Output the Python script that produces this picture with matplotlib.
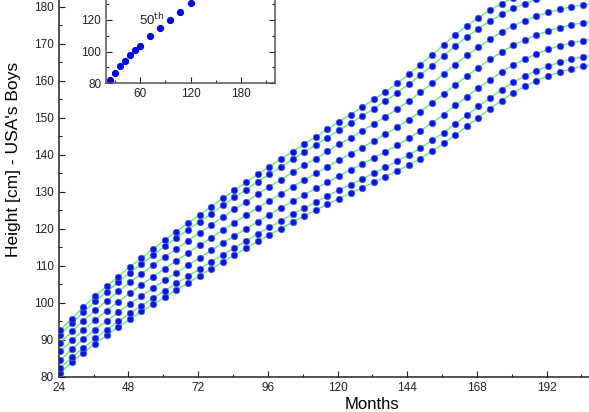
import matplotlib
matplotlib.use("Agg")
import matplotlib.pyplot as plt
from matplotlib.ticker import MultipleLocator, FixedLocator

plt.rcParams['font.family'] = ['Liberation Sans', 'DejaVu Sans']

# CDC style stature-for-age, boys (cm)
months = [24.5, 28.5, 32.5, 36.5, 40.5, 44.5, 48.5, 52.5, 56.5, 60.5, 64.5, 68.5,
          72.5, 76.5, 80.5, 84.5, 88.5, 92.5, 96.5, 100.5, 104.5, 108.5, 112.5, 116.5,
          120.5, 124.5, 128.5, 132.5, 136.5, 140.5, 144.5, 148.5, 152.5, 156.5, 160.5,
          164.5, 168.5, 172.5, 176.5, 180.5, 184.5, 188.5, 192.5, 196.5, 200.5, 204.5, 208.5]

p5 = [81.1, 84.0, 86.5, 89.0, 91.3, 93.5, 95.6, 97.7, 99.6, 101.6, 103.5, 105.4,
      107.4, 109.2, 111.1, 113.0, 114.8, 116.7, 118.4, 120.1, 121.9, 123.5, 125.1, 126.7,
      128.2, 129.7, 131.1, 132.6, 134.1, 135.7, 137.2, 139.0, 141.0, 143.1, 145.4,
      147.7, 150.1, 152.5, 154.7, 156.8, 158.5, 160.1, 161.3, 162.4, 163.3, 163.9, 164.4]
p10 = [82.4, 85.3, 87.9, 90.4, 92.8, 95.0, 97.2, 99.3, 101.3, 103.3, 105.3, 107.2,
       109.2, 111.1, 113.0, 114.9, 116.8, 118.7, 120.4, 122.2, 124.0, 125.6, 127.3, 128.9,
       130.5, 132.0, 133.5, 135.1, 136.6, 138.3, 140.0, 141.8, 143.9, 146.0, 148.4,
       150.7, 153.1, 155.4, 157.6, 159.6, 161.3, 162.8, 164.0, 165.0, 165.9, 166.5, 167.0]
p25 = [84.5, 87.5, 90.2, 92.8, 95.2, 97.5, 99.8, 101.9, 104.0, 106.1, 108.2, 110.2,
       112.2, 114.2, 116.2, 118.1, 120.1, 122.0, 123.8, 125.7, 127.5, 129.2, 131.0, 132.6,
       134.3, 136.0, 137.5, 139.2, 140.9, 142.6, 144.5, 146.5, 148.7, 150.9, 153.4,
       155.7, 158.1, 160.3, 162.4, 164.3, 165.9, 167.3, 168.5, 169.5, 170.2, 170.9, 171.3]
p50 = [86.9, 89.9, 92.7, 95.4, 97.9, 100.3, 102.7, 104.9, 107.1, 109.3, 111.4, 113.5,
       115.6, 117.6, 119.7, 121.7, 123.7, 125.7, 127.6, 129.5, 131.4, 133.2, 135.0, 136.8,
       138.6, 140.3, 142.0, 143.8, 145.6, 147.5, 149.5, 151.7, 154.0, 156.4, 158.9,
       161.3, 163.6, 165.8, 167.8, 169.6, 171.1, 172.4, 173.5, 174.4, 175.1, 175.7, 176.1]
p75 = [89.3, 92.3, 95.2, 98.0, 100.6, 103.1, 105.6, 107.9, 110.2, 112.5, 114.6, 116.8,
       119.0, 121.0, 123.2, 125.3, 127.3, 129.4, 131.4, 133.3, 135.3, 137.2, 139.0, 141.0,
       142.9, 144.6, 146.5, 148.4, 150.3, 152.4, 154.5, 156.9, 159.3, 161.9, 164.4,
       166.9, 169.1, 171.3, 173.2, 174.9, 176.3, 177.5, 178.5, 179.3, 180.0, 180.5, 180.9]
p90 = [91.4, 94.5, 97.5, 100.4, 103.0, 105.6, 108.2, 110.5, 112.9, 115.3, 117.6, 119.8,
       122.0, 124.1, 126.4, 128.5, 130.6, 132.8, 134.8, 136.8, 138.8, 140.8, 142.7, 144.7,
       146.7, 148.6, 150.5, 152.5, 154.6, 156.7, 159.1, 161.6, 164.1, 166.8, 169.4,
       171.9, 174.1, 176.2, 178.0, 179.6, 180.9, 182.0, 183.0, 183.8, 184.3, 184.9, 185.2]
p95 = [92.7, 95.8, 98.9, 101.8, 104.5, 107.1, 109.8, 112.1, 114.6, 117.0, 119.3, 121.6,
       123.8, 126.0, 128.3, 130.4, 132.6, 134.8, 136.8, 138.9, 140.9, 142.9, 144.9, 146.9,
       149.0, 150.9, 152.9, 155.0, 157.1, 159.3, 161.8, 164.4, 167.0, 169.7, 172.4,
       174.9, 177.1, 179.1, 180.9, 182.4, 183.7, 184.7, 185.7, 186.4, 186.9, 187.5, 187.8]

# inset: single 50th percentile sample
inset_months = [24, 30, 36, 42, 48, 54, 60, 72, 84, 96, 108, 120]
inset_height = [82.1, 86.7, 90.7, 94.1, 97.7, 100.8, 103.4, 109.9, 114.7, 120.0, 125.1, 130.5]

x_ticks = [24, 48, 72, 96, 120, 144, 168, 192]
y_ticks = [80, 90, 100, 110, 120, 130, 140, 150, 160, 170, 180]
inset_x_ticks = [60, 120, 180]
inset_y_ticks = [80, 100, 120]

curves = [p5, p10, p25, p50, p75, p90, p95]

fig = plt.figure(figsize=(5.89, 4.12), dpi=100)
ax = fig.add_axes([0.0997, 0.085, 1.065, 1.078])

for c in curves:
    ax.plot(months, c, color='#66ee66', lw=1.0, zorder=2)
    ax.plot(months, c, 'o', color='#0a14e6', ms=4.7, mec='#4a5cff', mew=0.5, zorder=3)

ax.set_xlim(24, 240)
ax.set_ylim(80, 200)
ax.xaxis.set_major_locator(FixedLocator(x_ticks))
ax.xaxis.set_minor_locator(MultipleLocator(12))
ax.yaxis.set_major_locator(FixedLocator(y_ticks))
ax.yaxis.set_minor_locator(MultipleLocator(5))
ax.tick_params(which='both', direction='in', top=True, right=True, labelsize=8.5,
               colors='#222222', width=0.8)
ax.tick_params(which='major', length=4)
ax.tick_params(which='minor', length=2.5)
for s in ax.spines.values():
    s.set_linewidth(1.1)
    s.set_color('#222222')
ax.set_xlabel('Months', fontsize=12, labelpad=2)
ax.set_ylabel("Height [cm] - USA's Boys", fontsize=12.5)
ax.yaxis.set_label_coords(-0.060, 0.489)

# inset
ins = fig.add_axes([0.18, 0.798, 0.287, 0.461])
ins.plot(inset_months, inset_height, 'o', color='#0000ff', ms=4.2)
ins.set_xlim(19, 221)
ins.set_ylim(80, 200)
ins.xaxis.set_major_locator(FixedLocator(inset_x_ticks))
ins.xaxis.set_minor_locator(MultipleLocator(30))
ins.yaxis.set_major_locator(FixedLocator(inset_y_ticks))
ins.yaxis.set_minor_locator(MultipleLocator(10))
ins.tick_params(which='both', direction='in', top=True, right=True, labelsize=8.5,
                colors='#222222', width=0.8)
ins.tick_params(which='major', length=4)
ins.tick_params(which='minor', length=2.5)
for s in ins.spines.values():
    s.set_linewidth(1.1)
    s.set_color('#555555')
ins.text(59, 116.5, r'50$^{\mathrm{th}}$', fontsize=9.5, color='#222222')

fig.savefig('out.png', dpi=100)
